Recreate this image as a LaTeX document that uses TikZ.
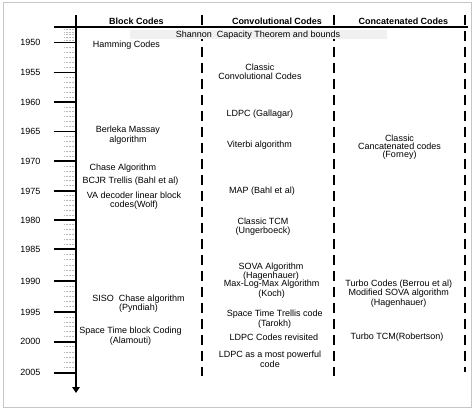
\documentclass[tikz,border=0pt]{standalone}
\usepackage{fontspec}
\setmainfont{Liberation Sans}
\usetikzlibrary{arrows.meta}
\tikzset{
  txt/.style={inner sep=0pt, align=center, anchor=base, font=\fontsize{9}{8.3}\selectfont},
  txtb/.style={txt, font=\fontsize{9}{8.3}\selectfont\bfseries},
  yearlbl/.style={inner sep=0pt, anchor=base east, font=\fontsize{9}{9}\selectfont},
  sep/.style={line width=1.3pt, dash pattern=on 10pt off 6pt},
  major/.style={line width=1.6pt},
  minor/.style={line width=0.8pt, gray!55, dash pattern=on 0.9pt off 0.6pt},
  frame/.style={draw=gray!45, line width=1pt}
}
\begin{document}
\begin{tikzpicture}[x=1pt,y=-1pt]
\useasboundingbox (0,0) rectangle (474,412);
\draw[frame] (3,3) rectangle (471,407);
% column separators
\coordinate (s1t) at (202,15); \coordinate (s1b) at (202,376);
\coordinate (s2t) at (334,15); \coordinate (s2b) at (334,376);
\coordinate (s3t) at (465,15); \coordinate (s3b) at (465,372);
\draw[sep] (s1t) -- (s1b);
\draw[sep] (s2t) -- (s2b);
\draw[sep] (s3t) -- (s3b);
% header line
\coordinate (hl) at (54,27); \coordinate (hr) at (468,27);
\draw[line width=1.5pt] (hl) -- (hr);
% shannon bar
\fill[gray!12] (130,30) rectangle (386.7,39);
\node[txt] (shannon) at (258,37.6) {Shannon\ \ Capacity Theorem and bounds};
% minor ticks
\foreach \a/\b in {27/42.5,42.5/72.5,72.5/102,102/131.5,131.5/161,161/190.8,190.8/220,220/249,249/281,281/312,312/341.7,341.7/372.7}{
  \foreach \k in {1,...,5}{
    \pgfmathsetmacro{\yy}{\a+(\b-\a)*\k/6}
    \draw[minor] (64,\yy) -- (75,\yy);
  }
}
% major ticks and years
\foreach \yr/\yy in {1950/42.5,1955/72.5,1960/102,1965/131.5,1970/161,1975/190.8,1980/220,1985/249,1990/281,1995/312,2000/341.7,2005/372.7}{
  \draw[major] (53.5,\yy) -- (76,\yy);
  \node[yearlbl] (y\yr) at (40.5,\yy+3.2) {\yr};
}
% axis
\coordinate (at) at (76,15); \coordinate (ab) at (76,393);
\draw[line width=1.7pt, -{Triangle[length=6pt,width=7.5pt]}] (at) -- (ab);
% headers
\node[txtb] (hblock) at (136.5,24.3) {Block Codes};
\node[txtb] (hconv) at (277,24.3) {Convolutional Codes};
\node[txtb] (hconc) at (403.5,24.3) {Concatenated Codes};
% block codes
\node[txt] (hamming) at (126.5,48) {Hamming Codes};
\node[txt] (berleka) at (128,142) {Berleka Massay\\algorithm};
\node[txt] (chase) at (123,170.3) {Chase Algorithm};
\node[txt] (bcjr) at (130.5,183) {BCJR Trellis (Bahl et al)};
\node[txt] (va) at (134,207) {VA decoder linear block\\codes(Wolf)};
\node[txt] (siso) at (138.5,310.7) {SISO\ \ Chase algorithm\\(Pyndiah)};
\node[txt] (stbc) at (130.5,343.3) {Space Time block Coding\\(Alamouti)};
% convolutional codes
\node[txt] (cconv) at (260,79) {Classic\\Convolutional Codes};
\node[txt] (ldpcg) at (260,116.3) {LDPC (Gallagar)};
\node[txt] (viterbi) at (259.5,147) {Viterbi algorithm};
\node[txt] (map) at (262,193) {MAP (Bahl et al)};
\node[txt] (tcm) at (263,233) {Classic TCM\\(Ungerboeck)};
\node[txt] (sova) at (271,278.7) {SOVA Algorithm\\(Hagenhauer)};
\node[txt] (maxlog) at (271.7,296.3) {Max-Log-Max Algorithm\\(Koch)};
\node[txt] (sttc) at (274.7,326.3) {Space Time Trellis code\\(Tarokh)};
\node[txt] (ldpcrev) at (273.8,340.3) {LDPC Codes revisited};
\node[txt] (ldpcpow) at (270,367) {LDPC as a most powerful\\code};
% concatenated codes
\node[txt, font=\fontsize{9}{8}\selectfont] (ccat) at (399.5,157.3) {Classic\\Cancatenated codes\\(Forney)};
\node[txt, font=\fontsize{9}{7.2}\selectfont] (turbo) at (398.7,305.3) {Turbo Codes (Berrou et al)\\Modified SOVA algorithm\\(Hagenhauer)};
\node[txt] (ttcm) at (397,339) {Turbo TCM(Robertson)};
\end{tikzpicture}
\end{document}
